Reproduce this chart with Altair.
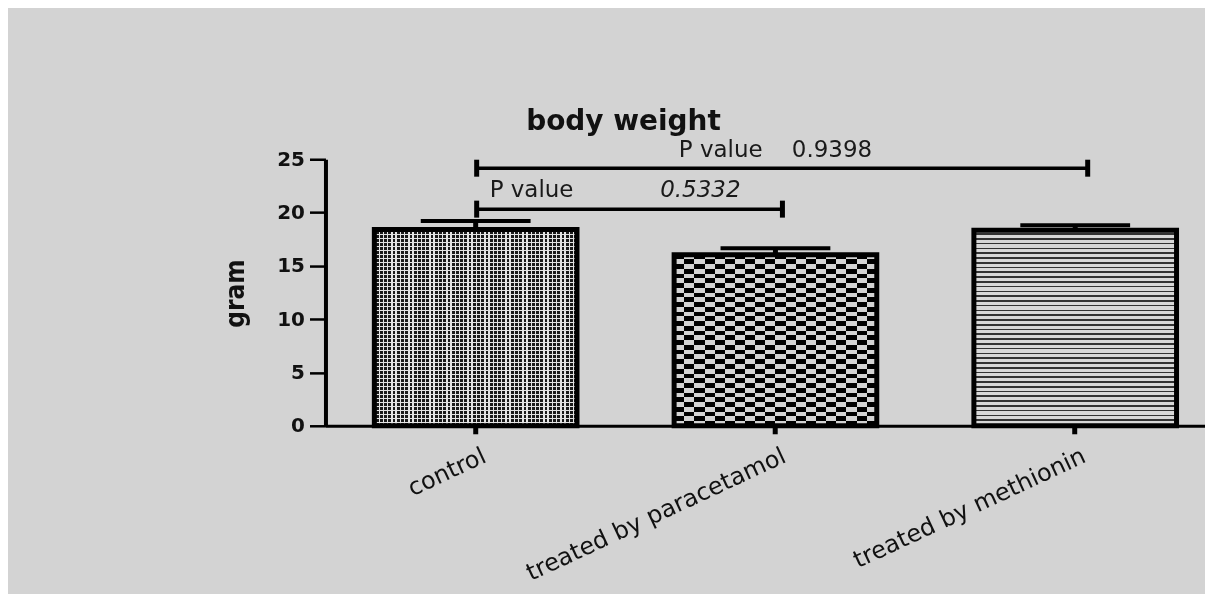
import altair as alt
import pandas as pd

# ---------------- data ----------------
groups = ["control", "treated by paracetamol", "treated by methionin"]
means = [18.4, 16.05, 18.35]
sems = [0.8, 0.6, 0.45]

bracket_from = ["control", "control"]
bracket_to = ["treated by methionin", "treated by paracetamol"]
bracket_y = [24.16, 20.32]
p_values = ["0.9398", "0.5332"]

y_ticks = [0, 5, 10, 15, 20, 25]

# ---------------- layout / style ----------------
BG = "#d3d3d3"
W, H = 881, 267
PX = H / 25.0
BAND_W = 203
FONT = "DejaVu Sans"

df = pd.DataFrame({"group": groups, "mean": means, "sem": sems})
df["upper"] = df["mean"] + df["sem"]

bdf = pd.DataFrame({"group": bracket_from, "group2": bracket_to,
                    "y": bracket_y, "p": p_values})


def stripes(n, frac_dark, light, dark, vertical):
    stops = []
    for i in range(n):
        a = i / n
        b = (i + 1 - frac_dark) / n
        c = (i + 1) / n
        stops += [{"offset": a, "color": light}, {"offset": b, "color": light},
                  {"offset": b, "color": dark}, {"offset": c, "color": dark}]
    g = {"gradient": "linear", "stops": stops, "x1": 0, "y1": 0}
    if vertical:
        g.update(x2=1, y2=0)
    else:
        g.update(x2=0, y2=1)
    return g


xscale = alt.Scale(domain=groups, paddingInner=0.324, paddingOuter=0.129, align=0.632)
yscale = alt.Scale(domain=[0, 25], nice=False, zero=True)

xaxis = alt.Axis(title=None, labelAngle=335, labelAlign="right", labelBaseline="top",
                 labelFontSize=24, labelFont=FONT, labelColor="#111111",
                 labelPadding=10, labelOffset=4, tickSize=8, tickWidth=5,
                 tickColor="black", domainColor="black", domainWidth=3,
                 labelLimit=400, labelOverlap=False, grid=False)
yaxis = alt.Axis(values=y_ticks, title="gram", titleFont="Liberation Sans Narrow, DejaVu Sans Condensed, sans-serif",
                 titleFontSize=26, titleFontWeight="bold", titleColor="#111111",
                 titleAngle=270, titleX=-90, titleY=134, titleAlign="center",
                 titleBaseline="middle", labelFont=FONT, labelFontSize=20,
                 labelFontWeight="bold", labelColor="#111111", labelPadding=5,
                 tickSize=16, tickWidth=2.5, tickColor="black",
                 domainColor="black", domainWidth=4, grid=False)


def X(field="group"):
    return alt.X(f"{field}:N", scale=xscale, axis=xaxis, sort=groups)


def Y(field):
    return alt.Y(f"{field}:Q", scale=yscale, axis=yaxis)


base = alt.Chart(df)
layers = []

# pattern fills (first layer)
h = [m * PX for m in means]
fills1 = {
    "control": stripes(round(BAND_W / 4.2), 0.65, "#e4e4e4", "#1a1a1a", True),
    "treated by paracetamol": stripes(round(BAND_W / 19.5), 0.5, BG, "#000000", True),
    "treated by methionin": stripes(round(h[2] / 4.8), 0.35, "#d8d8d8", "#333333", False),
}
for g in groups:
    layers.append(base.transform_filter(alt.datum.group == g)
                  .mark_bar(fill=fills1[g], strokeWidth=0)
                  .encode(x=X(), y=Y("mean")))

# second pattern layers (blended)
layers.append(base.transform_filter(alt.datum.group == "control")
              .mark_bar(fill=stripes(round(h[0] / 4.0), 0.62, "#e4e4e4", "#000000", False),
                        strokeWidth=0, blend="lighten")
              .encode(x=X(), y=Y("mean")))
layers.append(base.transform_filter(alt.datum.group == "treated by paracetamol")
              .mark_bar(fill=stripes(round(h[1] / 9.6), 0.5, BG, "#000000", False),
                        strokeWidth=0, blend="difference")
              .encode(x=X(), y=Y("mean")))

# outlines
layers.append(base.mark_bar(fillOpacity=0, stroke="black", strokeWidth=5)
              .encode(x=X(), y=Y("mean")))

# error bars (upper side)
layers.append(base.mark_rule(color="black", strokeWidth=5, opacity=1)
              .encode(x=X(), y=Y("mean"), y2="upper:Q"))
layers.append(base.mark_tick(color="black", size=110, thickness=4, opacity=1)
              .encode(x=X(), y=Y("upper")))

# significance brackets
right_off = [12.5, 7]
for i in range(len(bracket_y)):
    bc = alt.Chart(bdf.iloc[[i]])
    layers.append(bc.mark_rule(color="black", strokeWidth=3.5, xOffset=1,
                               x2Offset=right_off[i], opacity=1)
                  .encode(x=X(), x2="group2:N", y=Y("y")))
    layers.append(bc.mark_tick(color="black", orient="vertical", size=17, thickness=5,
                               xOffset=1, opacity=1)
                  .encode(x=X(), y=Y("y")))
    layers.append(bc.mark_tick(color="black", orient="vertical", size=17, thickness=5,
                               xOffset=right_off[i], opacity=1)
                  .encode(x=X("group2"), y=Y("y")))

# p-value texts
top = alt.Chart(bdf.iloc[[0]]).transform_calculate(
    label="'P value\u00a0\u00a0\u00a0\u00a0' + datum.p",
    mid="'treated by paracetamol'")
layers.append(top.mark_text(font=FONT, fontSize=23, color="#1a1a1a", align="center",
                            baseline="alphabetic", dy=-11)
              .encode(x=alt.X("mid:N", scale=xscale, axis=xaxis, sort=groups),
                      y=Y("y"), text="label:N"))
low = alt.Chart(bdf.iloc[[1]])
layers.append(low.mark_text(font=FONT, fontSize=23, color="#1a1a1a", align="left",
                            baseline="alphabetic", dy=-12, dx=14)
              .encode(x=X(), y=Y("y"), text=alt.value("P value")))
layers.append(low.mark_text(font=FONT, fontSize=23, color="#1a1a1a", align="right",
                            fontStyle="italic", baseline="alphabetic", dy=-12, dx=-35)
              .encode(x=X("group2"), y=Y("y"), text="p:N"))

chart = alt.layer(*layers).properties(
    width=W, height=H,
    background=BG,
    padding={"left": 318, "top": 151, "right": 0, "bottom": 168},
    autosize=alt.AutoSizeParams(type="none"),
    title=alt.TitleParams("body weight", font=FONT, fontSize=28, fontWeight="bold",
                          anchor="middle", dx=-142, dy=31, offset=12, baseline="alphabetic",
                          color="#111111", frame="group"),
).configure_view(strokeWidth=0)

chart.save("out.html", embed_options={"renderer": "svg", "actions": False})
